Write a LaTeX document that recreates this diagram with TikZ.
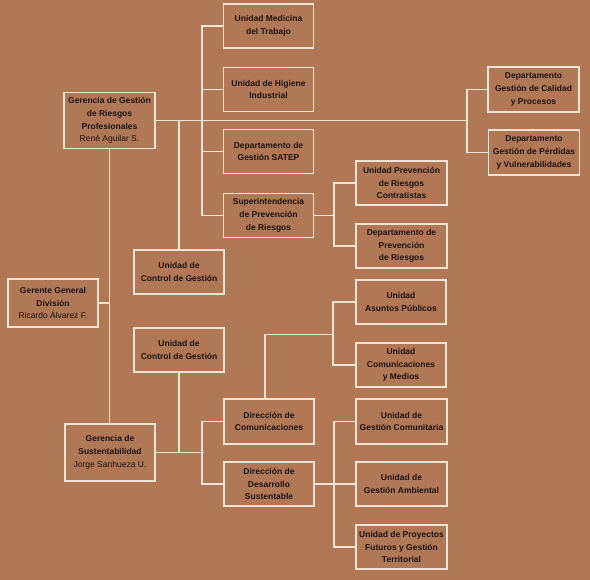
\documentclass[tikz,border=0pt]{standalone}
\usepackage{fontspec}
\setmainfont{Liberation Sans}
\definecolor{bg}{HTML}{B07856}
\definecolor{linec}{HTML}{F2E4D2}
\definecolor{txt}{HTML}{1E140F}
\tikzset{
  orgbox/.style={draw=linec, line width=1.8pt, fill=bg, rectangle, inner sep=0pt,
    minimum width=90pt, minimum height=44pt, align=center, text=txt,
    font=\bfseries\fontsize{8.5}{12.7}\selectfont},
  link/.style={draw=linec, line width=1.8pt}
}
\newcommand{\pname}[1]{{\mdseries #1}}
\begin{document}
\begin{tikzpicture}[x=1pt,y=-1pt]
\fill[bg] (0,0) rectangle (590,580);
\useasboundingbox (0,0) rectangle (590,580);

\coordinate (mainR) at (468,120.5);
\coordinate (comJ) at (334,334.5);
\coordinate (comT) at (265,334.5);

\node[orgbox] (med) at (268.5,26) {Unidad Medicina\\del Trabajo};
\node[orgbox] (hig) at (268.5,89.5) {Unidad de Higiene\\Industrial};
\node[orgbox, minimum width=91pt, minimum height=56pt] (gerRP) at (109.5,120.5)
  {Gerencia de Gestión\\de Riesgos\\Profesionales\\\pname{René Aguilar S.}};
\node[orgbox] (satep) at (268.5,151.5) {Departamento de\\Gestión SATEP};
\node[orgbox] (sup) at (268.5,215.5) {Superintendencia\\de Prevención\\de Riesgos};
\node[orgbox] (ctl1) at (179,272) {Unidad de\\Control de Gestión};
\node[orgbox, minimum height=48pt] (gg) at (53,303) {Gerente General\\División\\\pname{Ricardo Álvarez F.}};
\node[orgbox] (ctl2) at (179,350) {Unidad de\\Control de Gestión};
\node[orgbox, minimum height=45pt] (dcom) at (269,421.5) {Dirección de\\Comunicaciones};
\node[orgbox, minimum height=57pt] (gsust) at (110,452.5) {Gerencia de\\Sustentabilidad\\\pname{Jorge Sanhueza U.}};
\node[orgbox] (ddes) at (269,484) {Dirección de\\Desarrollo\\Sustentable};
\node[orgbox, minimum width=91pt, minimum height=45pt] (cal) at (533.5,89.5) {Departamento\\Gestión de Calidad\\y Procesos};
\node[orgbox, minimum width=91pt, minimum height=45pt] (per) at (534,152.5) {Departamento\\Gestión de Pérdidas\\y Vulnerabilidades};
\node[orgbox, minimum width=91pt] (contr) at (401.5,183) {Unidad Prevención\\de Riesgos\\Contratistas};
\node[orgbox, minimum width=91pt] (dprev) at (401.5,246) {Departamento de\\Prevención\\de Riesgos};
\node[orgbox] (asun) at (401,302) {Unidad\\Asuntos Públicos};
\node[orgbox] (cym) at (401,365) {Unidad\\Comunicaciones\\y Medios};
\node[orgbox, minimum width=91pt, minimum height=45pt] (gcom) at (401.5,421.5) {Unidad de\\Gestión Comunitaria};
\node[orgbox, minimum width=91pt] (gamb) at (401.5,484) {Unidad de\\Gestión Ambiental};
\node[orgbox, minimum width=91pt] (proy) at (401.5,547) {Unidad de Proyectos\\Futuros y Gestión\\Territorial};

% upper branch
\draw[link] (gerRP.east) -- (mainR);
\draw[link] (cal.west) -- ++(-20,0) |- (per.west);
\draw[link] (med.west) -- ++(-20.5,0) |- (sup.west);
\draw[link] (hig.west) -- ++(-20.5,0);
\draw[link] (satep.west) -- ++(-20.5,0);
\draw[link] (ctl1.north) -- (ctl1.north |- gerRP.east);
\draw[link] (sup.east) -- ++(21,0);
\draw[link] (contr.west) -- ++(-21,0) |- (dprev.west);

% trunk
\draw[link] (gerRP.south) -- (gerRP.south |- gsust.north);
\draw[link] (gg.east) -- (gg.east -| gerRP.south);

% lower branch
\draw[link] (gsust.east) -- ++(48,0);
\draw[link] (dcom.west) -- ++(-21,0) |- (ddes.west);
\draw[link] (ctl2.south) -- (ctl2.south |- gsust.east);
\draw[link] (dcom.north -| comT) -- (comT) -- (comJ);
\draw[link] (asun.west) -- ++(-22,0) |- (cym.west);
\draw[link] (ddes.east) -- ++(21,0);
\draw[link] (gcom.west) -- ++(-21,0) |- (proy.west);
\draw[link] (gamb.west) -- ++(-21,0);
\end{tikzpicture}
\end{document}
